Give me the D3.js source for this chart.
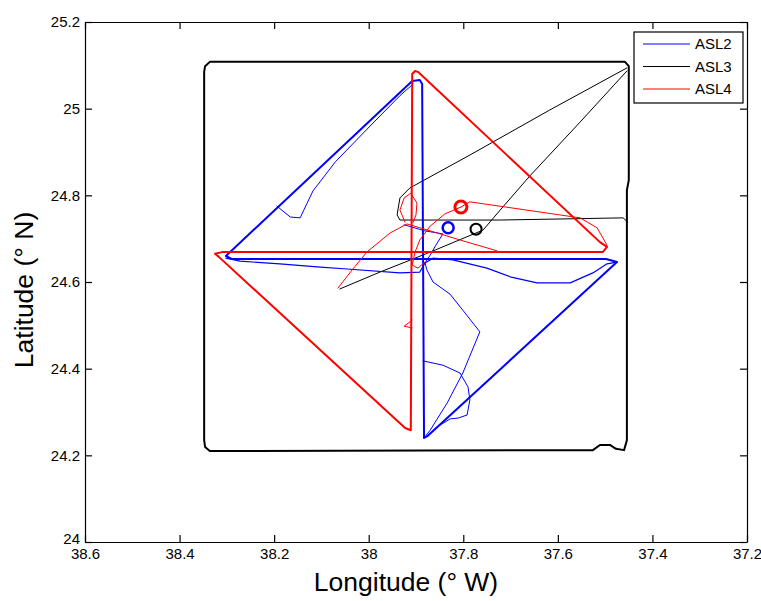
<!DOCTYPE html>
<html>
<head>
<meta charset="utf-8">
<script src="https://cdn.jsdelivr.net/npm/d3@7"></script>
<style>
  body { margin: 0; background: #fff; }
  svg { font-family: "Liberation Sans", Arial, Helvetica, sans-serif; }
  .axis path, .axis line { stroke: #000; stroke-width: 1.2; }
  .axis text { font-size: 15px; fill: #000; }
</style>
</head>
<body>
<svg id="chart" width="761" height="601"></svg>
<script>
// tick values (longitude decreases to the right, degrees W)
const xTicks = [38.6, 38.4, 38.2, 38, 37.8, 37.6, 37.4, 37.2]
const yTicks = [24, 24.2, 24.4, 24.6, 24.8, 25, 25.2]
const seriesNames = ['ASL2', 'ASL3', 'ASL4']

// ASL2 glider track, [lon W, lat N]
const asl2Main = [[37.883, 24.240], [37.887, 25.057], [37.892, 25.066], [37.908, 25.064],
  [38.302, 24.660], [38.289, 24.653], [37.498, 24.653], [37.475, 24.646],
  [37.875, 24.245], [37.883, 24.240]]
const asl2Upper = [[38.194, 24.775], [38.166, 24.750], [38.145, 24.748], [38.132, 24.778],
  [38.118, 24.810], [38.070, 24.878], [37.997, 24.960], [37.934, 25.030], [37.906, 25.057]]
const asl2Lower = [[38.302, 24.655], [38.272, 24.648], [38.188, 24.642], [38.109, 24.635],
  [38.046, 24.630], [37.934, 24.621], [37.892, 24.623], [37.881, 24.644], [37.864, 24.655],
  [37.822, 24.651], [37.750, 24.632], [37.701, 24.612], [37.644, 24.598], [37.574, 24.598],
  [37.526, 24.621], [37.496, 24.642], [37.475, 24.646]]
const asl2South = [[37.881, 24.644], [37.877, 24.628], [37.864, 24.600], [37.828, 24.572],
  [37.801, 24.535], [37.765, 24.485], [37.801, 24.390], [37.834, 24.321], [37.870, 24.258],
  [37.883, 24.240]]
const asl2Arc = [[37.885, 24.418], [37.843, 24.408], [37.807, 24.390], [37.790, 24.358],
  [37.786, 24.328], [37.792, 24.293], [37.811, 24.286], [37.828, 24.284], [37.856, 24.265],
  [37.875, 24.245]]
const asl2Center = [[37.925, 24.732], [37.881, 24.718], [37.843, 24.711], [37.858, 24.685],
  [37.870, 24.662], [37.881, 24.644]]
const asl2End = [37.832, 24.725]

// ASL3 glider track
const asl3Box = [[38.348, 25.085], [38.346, 25.098], [38.336, 25.108], [37.458, 25.108],
  [37.450, 25.098], [37.450, 24.835], [37.454, 24.812], [37.454, 24.235], [37.460, 24.212],
  [37.477, 24.215], [37.490, 24.224], [37.511, 24.224], [37.526, 24.212], [38.336, 24.210],
  [38.346, 24.219], [38.348, 24.235], [38.348, 25.085]]
const asl3North = [[37.454, 25.094], [37.617, 24.997], [37.786, 24.893], [37.913, 24.817],
  [37.934, 24.794], [37.940, 24.755], [37.934, 24.743], [37.722, 24.743], [37.462, 24.748],
  [37.452, 24.738]]
const asl3South = [[37.454, 25.087], [37.553, 24.969], [37.659, 24.845], [37.722, 24.766],
  [37.758, 24.720], [37.870, 24.669], [37.976, 24.623], [38.061, 24.584]]
const asl3End = [37.773, 24.722]

// ASL4 glider track
const asl4Main = [[37.911, 24.258], [37.908, 25.080], [37.902, 25.087], [37.896, 25.085],
  [37.511, 24.692], [37.496, 24.681], [37.505, 24.669], [38.310, 24.669], [38.325, 24.665],
  [38.317, 24.658], [37.923, 24.263], [37.911, 24.258]]
const asl4East = [[37.805, 24.773], [37.786, 24.785], [37.553, 24.748], [37.517, 24.725],
  [37.496, 24.685]]
const asl4West = [[38.065, 24.586], [38.035, 24.628], [38.004, 24.669], [37.955, 24.713],
  [37.919, 24.734], [37.870, 24.718], [37.807, 24.697], [37.729, 24.672]]
const asl4Middle = [[37.805, 24.773], [37.839, 24.757], [37.870, 24.729], [37.892, 24.697],
  [37.902, 24.669], [37.908, 24.639], [37.896, 24.632], [37.881, 24.646]]
const asl4Loop = [[37.923, 24.738], [37.934, 24.766], [37.925, 24.794], [37.911, 24.805],
  [37.898, 24.782], [37.900, 24.755], [37.906, 24.738]]
const asl4Flag = [[37.908, 24.512], [37.925, 24.498], [37.908, 24.494]]
const asl4End = [37.805, 24.773]

const margin = { left: 85, top: 22, right: 14, bottom: 59 }
const width = 761
const height = 601
const svg = d3.select('#chart')

const x = d3.scaleLinear().domain([38.6, 37.2]).range([margin.left, width - margin.right])
const y = d3.scaleLinear().domain([24, 25.2]).range([height - margin.bottom, margin.top])
const fmt = d => String(+d.toFixed(1))

const line = d3.line().x(d => x(d[0])).y(d => y(d[1]))

function drawTrack (pts, color, w) {
  svg.append('path')
    .attr('d', line(pts))
    .attr('fill', 'none')
    .attr('stroke', color)
    .attr('stroke-width', w)
    .attr('stroke-linejoin', 'round')
    .attr('stroke-linecap', 'round')
}

function drawEnd (pt, color, r, w) {
  svg.append('circle')
    .attr('cx', x(pt[0])).attr('cy', y(pt[1])).attr('r', r)
    .attr('fill', 'none').attr('stroke', color).attr('stroke-width', w)
}

// axes, ticks pointing inward on all four sides
const x0 = margin.left
const x1 = width - margin.right
const y0 = height - margin.bottom
const y1 = margin.top
svg.append('g').attr('class', 'axis').attr('transform', `translate(0,${y0})`)
  .call(d3.axisBottom(x).tickValues(xTicks).tickFormat(fmt).tickSizeInner(-7).tickSizeOuter(0).tickPadding(6))
svg.append('g').attr('class', 'axis').attr('transform', `translate(0,${y1})`)
  .call(d3.axisTop(x).tickValues(xTicks).tickFormat('').tickSizeInner(-7).tickSizeOuter(0))
svg.append('g').attr('class', 'axis').attr('transform', `translate(${x0},0)`)
  .call(d3.axisLeft(y).tickValues(yTicks).tickFormat(fmt).tickSizeInner(-7).tickSizeOuter(0).tickPadding(5))
svg.append('g').attr('class', 'axis').attr('transform', `translate(${x1},0)`)
  .call(d3.axisRight(y).tickValues(yTicks).tickFormat('').tickSizeInner(-7).tickSizeOuter(0))
svg.selectAll('.axis .domain').attr('stroke-width', 1.5)
// the lowest latitude label sits a little higher so it clears the first longitude label
svg.selectAll('.axis text').filter(d => d === 24).attr('dy', '0.1em')

// tracks
drawTrack(asl3Box, '#000', 2)
drawTrack(asl3North, '#000', 1)
drawTrack(asl3South, '#000', 1)

drawTrack(asl2Upper, '#0000ff', 1)
drawTrack(asl2Lower, '#0000ff', 1.2)
drawTrack(asl2South, '#0000ff', 1)
drawTrack(asl2Arc, '#0000ff', 1)
drawTrack(asl2Center, '#0000ff', 1)
drawTrack(asl2Main, '#0000ff', 2)

drawTrack(asl4East, '#ff0000', 1)
drawTrack(asl4West, '#ff0000', 1)
drawTrack(asl4Middle, '#ff0000', 1)
drawTrack(asl4Loop, '#ff0000', 1)
drawTrack(asl4Flag, '#ff0000', 1)
drawTrack(asl4Main, '#ff0000', 2)

drawEnd(asl2End, '#0000ff', 5.5, 2.5)
drawEnd(asl3End, '#000', 5.5, 2)
drawEnd(asl4End, '#ff0000', 6, 3)

// axis labels
svg.append('text')
  .attr('x', 406).attr('y', 591)
  .attr('text-anchor', 'middle')
  .style('font-size', '26.5px')
  .text('Longitude (° W)')
svg.append('text')
  .attr('transform', 'translate(33,290) rotate(-90)')
  .attr('text-anchor', 'middle')
  .style('font-size', '26.5px')
  .text('Latitude (° N)')

// legend
const colors = ['#0000ff', '#000', '#ff0000']
const legend = svg.append('g').attr('transform', 'translate(634,32)')
legend.append('rect').attr('width', 109).attr('height', 71)
  .attr('fill', '#fff').attr('stroke', '#000').attr('stroke-width', 1.2)
seriesNames.forEach((name, i) => {
  const ly = 12 + i * 22.5
  legend.append('line').attr('x1', 9).attr('x2', 56).attr('y1', ly).attr('y2', ly)
    .attr('stroke', colors[i]).attr('stroke-width', 1.2)
  legend.append('text').attr('x', 61).attr('y', ly).attr('dy', '0.36em')
    .style('font-size', '15px').text(name)
})
</script>
</body>
</html>
